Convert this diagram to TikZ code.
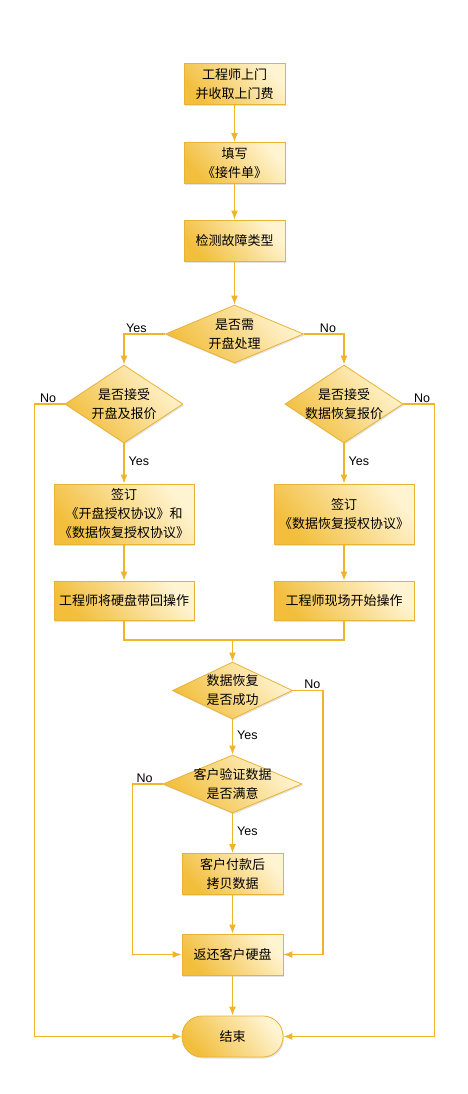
\documentclass[tikz,border=0pt]{standalone}
\usepackage{fontspec}
\setmainfont{Liberation Sans}
\newfontfamily\cjk{Noto Sans CJK SC}
\usetikzlibrary{shapes.geometric, arrows.meta, shadows}
\definecolor{boxdark}{HTML}{F2BE3C}
\definecolor{boxlight}{HTML}{FFF4D2}
\definecolor{boxline}{HTML}{E8B236}
\definecolor{flowline}{HTML}{F0B42A}

\begin{document}
\begin{tikzpicture}[x=1pt, y=-1pt, >={Latex[length=9pt,width=7pt]}, line width=1.2pt,
    txt/.style={font=\cjk\fontsize{13}{19}\selectfont, align=center, text=black},
    fillbox/.style={draw=boxline, line width=0.8pt, bottom color=boxdark, top color=boxlight, shading angle=-50,
      drop shadow={opacity=0.22, shadow xshift=1pt, shadow yshift=-1.5pt}},
    procbox/.style={fillbox, txt, rectangle, inner sep=0pt, minimum width=101, minimum height=41},
    widebox/.style={procbox, minimum width=140},
    decision/.style={fillbox, diamond, inner sep=0pt},
    endbox/.style={procbox, rounded corners=20pt},
    flow/.style={draw=flowline, ->},
    yn/.style={font=\fontsize{12.5}{15}\selectfont, inner sep=1pt}]
  \useasboundingbox (0,0) rectangle (468,1094);
  % main column
  \node[procbox] (visit) at (234.5,84) {工程师上门\\并收取上门费};
  \node[procbox] (form) at (234.5,163) {填写\\《接件单》};
  \node[procbox] (check) at (234.5,240.5) {检测故障类型};
  \node[decision, minimum width=138, minimum height=58, label={[txt]center:{是否需\\开盘处理}}] (open) at (234.5,334) {};
  % two branches
  \node[decision, minimum width=118, minimum height=78, label={[txt]center:{是否接受\\开盘及报价}}] (acceptA) at (124,404) {};
  \node[decision, minimum width=118, minimum height=78, label={[txt]center:{是否接受\\数据恢复报价}}] (acceptB) at (344,404) {};
  \node[widebox, minimum height=60] (signA) at (124,514) {签订\\《开盘授权协议》和\\《数据恢复授权协议》};
  \node[widebox, minimum height=60] (signB) at (344,514) {签订\\《数据恢复授权协议》};
  \node[widebox, minimum height=39] (takeA) at (124,600.5) {工程师将硬盘带回操作};
  \node[widebox, minimum height=39] (workB) at (344,600.5) {工程师现场开始操作};
  \coordinate (merge) at (232.5,640);
  % checks after recovery
  \node[decision, minimum width=120, minimum height=57, label={[txt]center:{数据恢复\\是否成功}}] (ok) at (232.5,690.5) {};
  \node[decision, minimum width=139, minimum height=58, label={[txt]center:{客户验证数据\\是否满意}}] (happy) at (232.5,784) {};
  \node[procbox] (pay) at (232.5,874) {客户付款后\\拷贝数据};
  \node[procbox] (back) at (232.5,954.5) {返还客户硬盘};
  \node[endbox] (stop) at (232.5,1036.5) {结束};

  \draw[flow] (visit) -- (form);
  \draw[flow] (form) -- (check);
  \draw[flow] (check) -- (open);
  \draw[flow] (open.west) -| node[yn, above, pos=0.35] {Yes} (acceptA.north);
  \draw[flow] (open.east) -| node[yn, above, pos=0.3] {No} (acceptB.north);
  \draw[flow] (acceptA) -- node[yn, right=3pt, pos=0.45] {Yes} (signA);
  \draw[flow] (acceptB) -- node[yn, right=3pt, pos=0.45] {Yes} (signB);
  \draw[flow] (signA) -- (takeA);
  \draw[flow] (signB) -- (workB);
  \draw[draw=flowline] (takeA.south) |- (merge) -| (workB.south);
  \draw[flow] (merge) -- (ok.north);
  \draw[flow] (ok) -- node[yn, right=3pt, pos=0.45] {Yes} (happy);
  \draw[flow] (happy) -- node[yn, right=3pt, pos=0.45] {Yes} (pay);
  \draw[flow] (pay) -- (back);
  \draw[flow] (back) -- (stop);
  % No branches
  \draw[flow] (acceptA.west) -- node[yn, above, pos=0.55] {No} ++(-30,0) |- (stop.west);
  \draw[flow] (acceptB.east) -- node[yn, above, pos=0.6] {No} ++(31,0) |- (stop.east);
  \draw[flow] (ok.east) -- node[yn, above, pos=0.65] {No} ++(30,0) |- (back.east);
  \draw[flow] (happy.west) -- node[yn, above, pos=0.6] {No} ++(-30,0) |- (back.west);
\end{tikzpicture}
\end{document}
